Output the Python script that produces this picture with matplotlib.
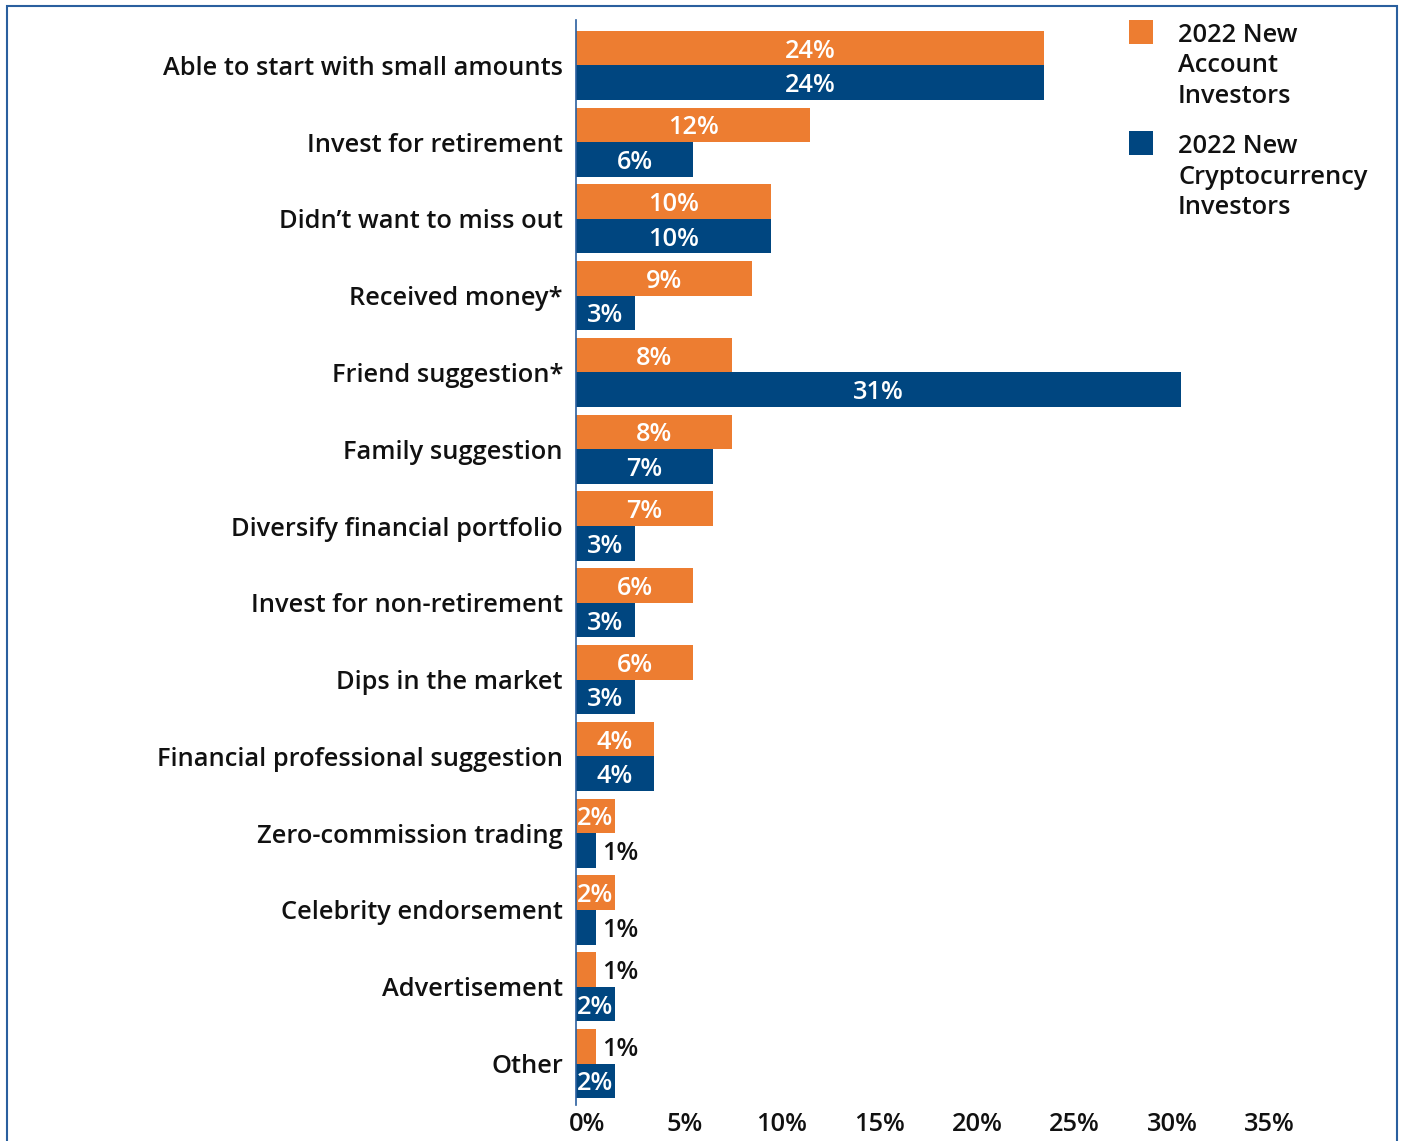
import matplotlib
matplotlib.use("Agg")
import matplotlib.pyplot as plt
import matplotlib.transforms as mtransforms
from matplotlib.patches import Rectangle

plt.rcParams["font.family"] = ["Open Sans", "DejaVu Sans"]

categories = [
    "Able to start with small amounts",
    "Invest for retirement",
    "Didn\u2019t want to miss out",
    "Received money*",
    "Friend suggestion*",
    "Family suggestion",
    "Diversify financial portfolio",
    "Invest for non-retirement",
    "Dips in the market",
    "Financial professional suggestion",
    "Zero-commission trading",
    "Celebrity endorsement",
    "Advertisement",
    "Other",
]
new_account = [24, 12, 10, 9, 8, 8, 7, 6, 6, 4, 2, 2, 1, 1]
new_crypto = [24, 6, 10, 3, 31, 7, 3, 3, 3, 4, 1, 1, 2, 2]
series_names = ["2022 New\nAccount\nInvestors", "2022 New\nCryptocurrency\nInvestors"]
x_ticks = [0, 5, 10, 15, 20, 25, 30, 35]

ORANGE = "#ED7D31"
BLUE = "#004680"
TEXT = "#111111"
FS = 18.3

W, H = 1401, 1141
fig = plt.figure(figsize=(W / 100, H / 100), dpi=100)


def fx(px):
    return px / W


def fy(py):
    return 1 - py / H


ax_left, ax_right, ax_top, ax_bottom = 576, 1278, 20, 1105
ax = fig.add_axes([fx(ax_left), fy(ax_bottom), fx(ax_right - ax_left), (ax_bottom - ax_top) / H])

n = len(categories)
ys = list(range(n))
bh = 0.45
ax.barh([y - bh / 2 for y in ys], new_account, height=bh, color=ORANGE, linewidth=0)
ax.barh([y + bh / 2 for y in ys], new_crypto, height=bh, color=BLUE, linewidth=0)

ax.set_xlim(0, 36)
ax.set_ylim(n - 1 + 0.54, -0.59)

for y, a, c in zip(ys, new_account, new_crypto):
    for val, yc in ((a, y - bh / 2), (c, y + bh / 2)):
        if val >= 2:
            ax.text(val / 2, yc, f"{val}%", ha="center", va="center_baseline",
                    color="white", fontsize=FS, fontweight="semibold")
        else:
            ax.annotate(f"{val}%", (val, yc), xytext=(7, 0), textcoords="offset pixels",
                        ha="left", va="center_baseline", color=TEXT,
                        fontsize=FS, fontweight="semibold")

ax.set_yticks(ys)
ax.set_yticklabels(categories, fontsize=FS, fontweight="semibold", color=TEXT)
ax.tick_params(axis="y", length=0, pad=9.4)

ax.set_xticks(x_ticks)
ax.set_xticklabels([f"{t}%" for t in x_ticks], fontsize=FS, fontweight="semibold", color=TEXT)
ax.tick_params(axis="x", length=0, pad=5)
shift = mtransforms.ScaledTranslation(11 / 100, 0, fig.dpi_scale_trans)
for lbl in ax.get_xticklabels():
    lbl.set_transform(lbl.get_transform() + shift)

for side in ("top", "right", "bottom"):
    ax.spines[side].set_visible(False)
ax.spines["left"].set_color("#2a5f9e")
ax.spines["left"].set_linewidth(1.2)

# legend
leg_items = [(ORANGE, 20, series_names[0]), (BLUE, 131, series_names[1])]
for color, top, name in leg_items:
    fig.add_artist(Rectangle((fx(1129), fy(top + 24)), fx(24), 24 / H,
                             transform=fig.transFigure, color=color, linewidth=0))
    fig.text(fx(1178), fy(top + 22), name.split("\n")[0], ha="left", va="baseline",
             fontsize=FS, fontweight="semibold", color=TEXT)
    for k, line in enumerate(name.split("\n")[1:], start=1):
        fig.text(fx(1178), fy(top + 22 + 30.5 * k), line, ha="left", va="baseline",
                 fontsize=FS, fontweight="semibold", color=TEXT)

# outer frame
fig.add_artist(Rectangle((fx(7), fy(H + 10)), fx(1397 - 7), (H + 10 - 6) / H,
                         transform=fig.transFigure, fill=False,
                         edgecolor="#2a5f9e", linewidth=1.5))

fig.savefig("out.png", dpi=100, facecolor="white")
